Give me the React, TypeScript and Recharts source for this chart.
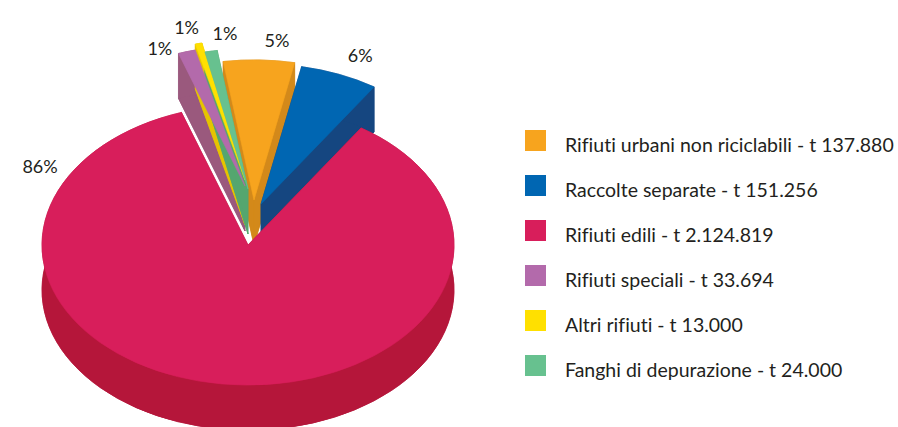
import { Legend, Pie, PieChart } from 'recharts';

const categories = [
  'Rifiuti urbani non riciclabili',
  'Raccolte separate',
  'Rifiuti edili',
  'Rifiuti speciali',
  'Altri rifiuti',
  'Fanghi di depurazione',
];
const tonnes = [137880, 151256, 2124819, 33694, 13000, 24000];
const tonneLabels = ['137.880', '151.256', '2.124.819', '33.694', '13.000', '24.000'];
const percentLabels = ['5%', '6%', '86%', '1%', '1%', '1%'];

const data = categories.map((name, i) => ({ name, value: tonnes[i] }));

// styling
const topColors = ['#f7a41e', '#0066b2', '#d81e5b', '#b36aab', '#ffe000', '#67c18f'];
const sideColors = ['#d3891a', '#154680', '#b5163a', '#9a597d', '#e6c400', '#55a66f'];
// screen offset of the pulled-out slices
const lift = [[6, -45], [13, -41], [0, 0], [-3, -59], [-3, -65], [0, -56]];
// percent label shift from the outer middle of each slice
const labelShift = [[18, -20], [21, -19], [-182, -218], [-27, -4], [-12, -17], [14, -18]];

const K = 0.68; // vertical squash of the pie
const DEPTH = 45;
const RAD = Math.PI / 180;

function pt(p: any, r: number, angle: number, drop = 0) {
  const [dx, dy] = lift[p.index];
  const x = p.cx + dx + r * Math.cos(angle * RAD);
  const y = p.cy + dy - r * Math.sin(angle * RAD) * K + drop;
  return `${x.toFixed(2)},${y.toFixed(2)}`;
}

function sectorPath(p: any, drop: number) {
  const r = p.outerRadius;
  const large = Math.abs(p.startAngle - p.endAngle) > 180 ? 1 : 0;
  return `M${pt(p, 0, 0, drop)} L${pt(p, r, p.startAngle, drop)} A${r} ${r * K} 0 ${large} 1 ${pt(p, r, p.endAngle, drop)} Z`;
}

function Walls(p: any) {
  const r = p.outerRadius;
  const c = sideColors[p.index];
  const large = Math.abs(p.startAngle - p.endAngle) > 180 ? 1 : 0;
  const paths = [
    sectorPath(p, DEPTH),
    `M${pt(p, 0, 0)} L${pt(p, r, p.startAngle)} L${pt(p, r, p.startAngle, DEPTH)} L${pt(p, 0, 0, DEPTH)} Z`,
    `M${pt(p, 0, 0)} L${pt(p, r, p.endAngle)} L${pt(p, r, p.endAngle, DEPTH)} L${pt(p, 0, 0, DEPTH)} Z`,
    `M${pt(p, r, p.startAngle)} A${r} ${r * K} 0 ${large} 1 ${pt(p, r, p.endAngle)} L${pt(p, r, p.endAngle, DEPTH)} A${r} ${r * K} 0 ${large} 0 ${pt(p, r, p.startAngle, DEPTH)} Z`,
  ];
  return (
    <g>
      {paths.map((d, i) => (
        <path key={i} d={d} fill={c} stroke={c} strokeWidth={0.6} />
      ))}
    </g>
  );
}

function Top(p: any) {
  const r = p.outerRadius;
  const [dx, dy] = lift[p.index];
  const mid = (p.startAngle + p.endAngle) / 2;
  const mx = p.cx + dx + r * Math.cos(mid * RAD) + labelShift[p.index][0];
  const my = p.cy + dy - r * Math.sin(mid * RAD) * K + labelShift[p.index][1];
  return (
    <g>
      <path d={sectorPath(p, 0)} fill={topColors[p.index]} stroke={topColors[p.index]} strokeWidth={0.6} />
      <text x={mx} y={my} textAnchor="middle" dominantBaseline="central" fontSize={18} fill="#231f20">
        {percentLabels[p.index]}
      </text>
    </g>
  );
}

function LegendList() {
  return (
    <ul style={{ listStyle: 'none', margin: 0, padding: 0 }}>
      {categories.map((name, i) => (
        <li key={name} style={{ display: 'flex', alignItems: 'flex-start', height: 45 }}>
          <span style={{ width: 21, height: 21, background: topColors[i], marginRight: 19, flex: 'none' }} />
          <span style={{ fontSize: 19.5, lineHeight: '21px', position: 'relative', top: 4, color: '#231f20', whiteSpace: 'nowrap' }}>
            {name} - t {tonneLabels[i]}
          </span>
        </li>
      ))}
    </ul>
  );
}

export default function App() {
  const common = {
    data,
    dataKey: 'value',
    nameKey: 'name',
    cx: 248,
    cy: 245,
    outerRadius: 206,
    startAngle: 98.6,
    endAngle: -261.4,
    fill: 'none',
    stroke: 'none',
    labelLine: false,
    isAnimationActive: false,
  };
  return (
    <div
      style={{
        position: 'absolute',
        left: 0,
        top: 0,
        fontFamily: 'Lato, "Open Sans", sans-serif',
        fontVariantLigatures: 'none',
      }}
    >
      <PieChart width={898} height={427} margin={{ top: 0, right: 0, bottom: 0, left: 0 }}>
        <Pie {...common} label={Walls} />
        <Pie {...common} label={Top} />
        <Legend
          layout="vertical"
          align="right"
          verticalAlign="top"
          content={LegendList}
          wrapperStyle={{ position: 'absolute', left: 525, top: 130, width: 373 }}
        />
      </PieChart>
    </div>
  );
}
